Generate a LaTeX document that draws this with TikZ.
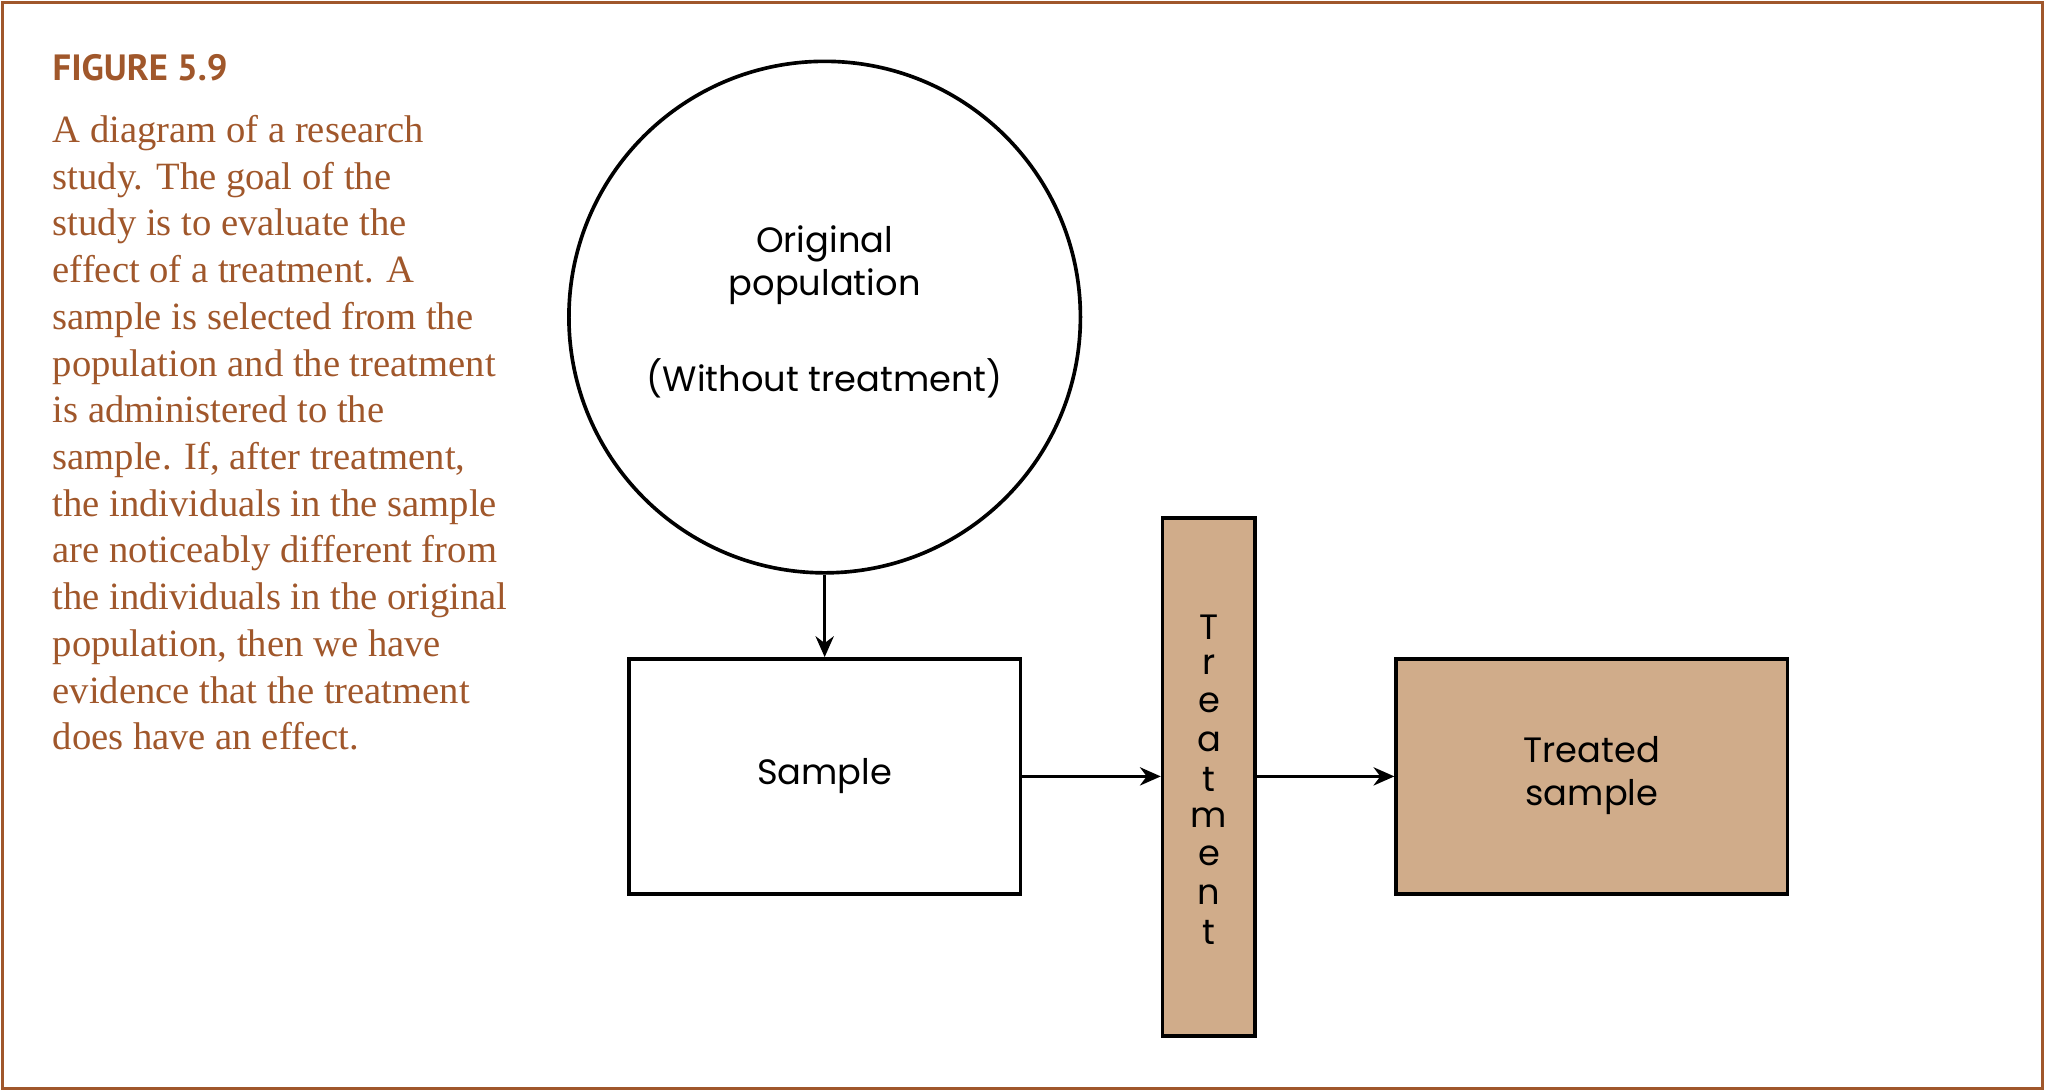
\documentclass[tikz,border=0pt]{standalone}
\usepackage{fontspec}
\setmainfont{Liberation Serif}
\newfontfamily\figfont{PT Sans}
\newfontfamily\gfont{Poppins}
\usetikzlibrary{arrows.meta}
\definecolor{brn}{HTML}{A0572B}
\definecolor{tan}{HTML}{D0AC8A}
\begin{document}
\begin{tikzpicture}[x=0.5pt,y=-0.5pt,
  box/.style={draw=black,line width=1.4pt,minimum width=150pt,minimum height=90pt,inner sep=0pt},
  lbl/.style={font=\gfont\fontsize{13.5}{16.5}\selectfont,align=center},
  arr/.style={-{Stealth[length=8pt,width=7pt]},line width=1.1pt}]
\useasboundingbox (0,0) rectangle (1568,836);
\draw[brn,line width=1.2pt] (2,2) rectangle (1565,834);
\node[anchor=base west,inner sep=0pt,text=brn,font=\figfont\bfseries\fontsize{14}{16}\selectfont] (fig) at (40,62) {FIGURE 5.9};
\node[anchor=north west,inner sep=0pt,text=brn,align=left,font=\fontsize{14.8}{17.9}\selectfont] (cap) at (40,88) {A diagram of a research\\study. The goal of the\\study is to evaluate the\\effect of a treatment. A\\sample is selected from the\\population and the treatment\\is administered to the\\sample. If, after treatment,\\the individuals in the sample\\are noticeably different from\\the individuals in the original\\population, then we have\\evidence that the treatment\\does have an effect.};
\node[circle,draw=black,line width=1.4pt,minimum size=196pt,inner sep=0pt] (pop) at (632,243) {};
\node[lbl] (t1) at (632,203) {Original\\population};
\node[lbl] (t2) at (632,290) {(Without treatment)};
\node[box] (samp) at (632,595) {};
\node[lbl] (st) at (632,595) {Sample};
\node[draw=black,fill=tan,line width=1.4pt,minimum width=35.5pt,minimum height=198.5pt,inner sep=0pt] (bar) at (926.5,595.5) {};
\foreach \c [count=\i] in {T,r,e,a,t,m,e,n,t}
  \node[lbl,anchor=center] (L\i) at (926.5,451+29.3*\i) {\c};
\node[box,fill=tan] (trt) at (1220,595) {};
\node[lbl] (tt) at (1220,594) {Treated\\sample};
\draw[arr] (pop.south) -- (samp.north);
\draw[arr] (samp.east) -- (bar.west |- samp.east);
\draw[arr] (bar.east |- trt.west) -- (trt.west);
\end{tikzpicture}
\end{document}
